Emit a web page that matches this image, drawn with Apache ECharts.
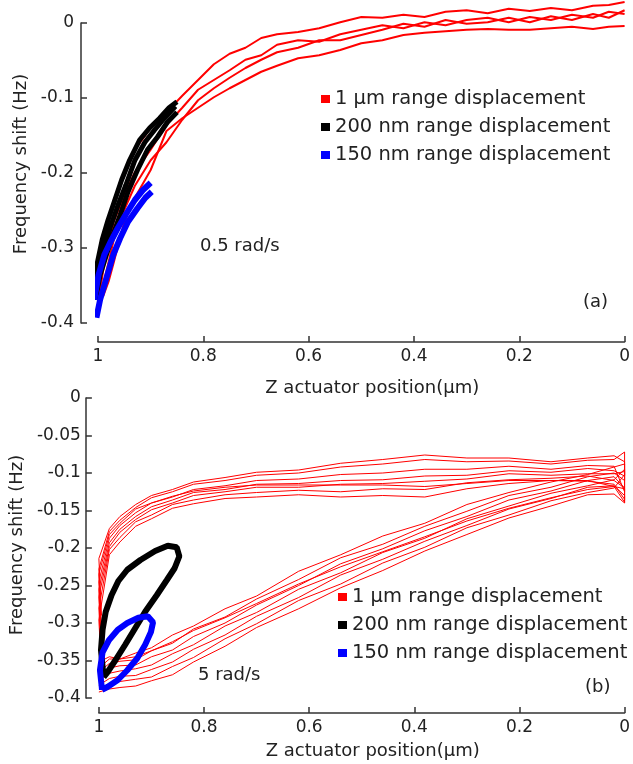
<!DOCTYPE html>
<html>
<head>
<meta charset="utf-8">
<script src="https://cdn.jsdelivr.net/npm/echarts@6/dist/echarts.min.js"></script>
<style>
  html, body { margin: 0; padding: 0; background: #fff; }
  #chart { width: 633px; height: 764px; }
</style>
</head>
<body>
<div id="chart"></div>
<script>
// legend names
const NAMES = ["1 μm range displacement", "200 nm range displacement", "150 nm range displacement"];
const X_TICKS = [1, 0.8, 0.6, 0.4, 0.2, 0];

// ---- panel (a), 0.5 rad/s ----
const X_TOP = [1.0, 0.99, 0.98, 0.97, 0.95, 0.93, 0.90, 0.87, 0.84, 0.81, 0.78, 0.75, 0.72, 0.69, 0.66, 0.62,
  0.58, 0.54, 0.50, 0.46, 0.42, 0.38, 0.34, 0.30, 0.26, 0.22, 0.18, 0.14, 0.10, 0.06, 0.03, 0.0];
const RED_A_TOP = [-0.363, -0.296, -0.265, -0.236, -0.203, -0.169, -0.140, -0.119, -0.097, -0.076, -0.055, -0.041,
  -0.033, -0.020, -0.015, -0.012, -0.007, 0.001, 0.008, 0.007, 0.011, 0.008, 0.015, 0.017, 0.013, 0.019, 0.016,
  0.020, 0.017, 0.023, 0.024, 0.028];
const RED_B_TOP = [-0.376, -0.329, -0.296, -0.265, -0.229, -0.199, -0.169, -0.136, -0.113, -0.089, -0.076, -0.063,
  -0.049, -0.043, -0.029, -0.023, -0.025, -0.015, -0.009, -0.003, -0.007, 0.001, -0.003, 0.004, 0.007, 0.001, 0.008,
  0.004, 0.011, 0.007, 0.015, 0.012];
const RED_C_TOP = [-0.356, -0.349, -0.319, -0.289, -0.249, -0.217, -0.183, -0.159, -0.129, -0.103, -0.087, -0.073,
  -0.060, -0.049, -0.039, -0.033, -0.023, -0.023, -0.016, -0.009, -0.001, -0.005, 0.004, -0.001, 0.001, 0.007, 0.001,
  0.009, 0.004, 0.012, 0.007, 0.017];
const RED_D_TOP = [-0.369, -0.364, -0.345, -0.319, -0.265, -0.233, -0.196, -0.144, -0.127, -0.113, -0.099, -0.087,
  -0.076, -0.065, -0.057, -0.047, -0.043, -0.036, -0.027, -0.023, -0.016, -0.013, -0.011, -0.009, -0.008, -0.009,
  -0.009, -0.007, -0.005, -0.008, -0.005, -0.004];

const BLACK_TOP_1 = [[1.009, -0.356], [1.001, -0.319], [0.992, -0.289], [0.981, -0.263], [0.968, -0.236], [0.955, -0.209],
  [0.940, -0.183], [0.921, -0.156], [0.902, -0.140], [0.883, -0.127], [0.865, -0.113], [0.850, -0.105]];
const BLACK_TOP_2 = [[1.005, -0.369], [0.996, -0.336], [0.984, -0.309], [0.973, -0.285], [0.958, -0.256], [0.943, -0.225],
  [0.925, -0.196], [0.906, -0.169], [0.887, -0.152], [0.868, -0.132], [0.850, -0.119]];
const BLACK_TOP_3 = [[1.007, -0.363], [0.998, -0.327], [0.988, -0.300], [0.977, -0.273], [0.962, -0.243], [0.947, -0.216],
  [0.930, -0.183], [0.911, -0.159], [0.893, -0.143], [0.874, -0.127], [0.853, -0.111]];

const BLUE_TOP_1 = [[1.007, -0.369], [0.999, -0.336], [0.988, -0.309], [0.977, -0.293], [0.962, -0.273], [0.947, -0.255],
  [0.930, -0.236], [0.915, -0.223], [0.900, -0.213]];
const BLUE_TOP_2 = [[1.003, -0.393], [0.996, -0.369], [0.984, -0.340], [0.971, -0.309], [0.958, -0.287], [0.943, -0.265],
  [0.925, -0.247], [0.910, -0.233], [0.898, -0.225]];

// ---- panel (b), 5 rad/s ----
const X_LO = [1.0, 0.98, 0.96, 0.93, 0.90, 0.86, 0.82, 0.76, 0.70, 0.62, 0.54, 0.46, 0.38, 0.30, 0.22, 0.14, 0.07, 0.02, 0.0];
const X_UP = [0.0, 0.02, 0.07, 0.14, 0.22, 0.30, 0.38, 0.46, 0.54, 0.62, 0.70, 0.76, 0.82, 0.86, 0.90, 0.93, 0.96, 0.98, 1.0, 0.995];

const LOOP1_LO = [-0.352, -0.345, -0.348, -0.340, -0.333, -0.316, -0.304, -0.281, -0.264, -0.231, -0.209, -0.184, -0.167, -0.142, -0.126, -0.112, -0.102, -0.092, -0.088];
const LOOP1_UP = [-0.104, -0.097, -0.094, -0.099, -0.097, -0.103, -0.104, -0.109, -0.110, -0.114, -0.115, -0.122, -0.126, -0.136, -0.145, -0.158, -0.175, -0.193, -0.255, -0.340];
const LOOP2_LO = [-0.365, -0.354, -0.351, -0.349, -0.337, -0.327, -0.308, -0.292, -0.268, -0.242, -0.213, -0.195, -0.171, -0.151, -0.130, -0.119, -0.105, -0.100, -0.110];
const LOOP2_UP = [-0.072, -0.082, -0.083, -0.088, -0.084, -0.085, -0.082, -0.088, -0.092, -0.100, -0.103, -0.110, -0.115, -0.125, -0.133, -0.146, -0.163, -0.178, -0.228, -0.320];
const LOOP3_LO = [-0.372, -0.360, -0.357, -0.356, -0.345, -0.336, -0.318, -0.300, -0.276, -0.250, -0.221, -0.201, -0.177, -0.158, -0.136, -0.124, -0.110, -0.105, -0.120];
const LOOP3_UP = [-0.118, -0.110, -0.104, -0.107, -0.109, -0.113, -0.122, -0.121, -0.125, -0.123, -0.126, -0.129, -0.136, -0.142, -0.156, -0.165, -0.186, -0.202, -0.280, -0.355];
const LOOP4_LO = [-0.378, -0.367, -0.364, -0.361, -0.356, -0.341, -0.329, -0.304, -0.286, -0.255, -0.233, -0.206, -0.187, -0.161, -0.144, -0.127, -0.117, -0.109, -0.095];
const LOOP4_UP = [-0.125, -0.091, -0.090, -0.095, -0.091, -0.095, -0.095, -0.100, -0.102, -0.108, -0.110, -0.117, -0.122, -0.132, -0.140, -0.153, -0.170, -0.187, -0.245, -0.330];
const LOOP5_LO = [-0.383, -0.374, -0.371, -0.370, -0.362, -0.352, -0.335, -0.316, -0.291, -0.266, -0.236, -0.215, -0.191, -0.170, -0.148, -0.134, -0.119, -0.117, -0.130];
const LOOP5_UP = [-0.135, -0.115, -0.111, -0.110, -0.114, -0.121, -0.132, -0.130, -0.132, -0.129, -0.132, -0.134, -0.141, -0.147, -0.161, -0.171, -0.192, -0.209, -0.296, -0.365];
const LOOP6_LO = [-0.388, -0.381, -0.378, -0.375, -0.372, -0.358, -0.346, -0.321, -0.301, -0.270, -0.248, -0.220, -0.199, -0.173, -0.156, -0.137, -0.126, -0.120, -0.102];
const LOOP6_UP = [-0.098, -0.101, -0.101, -0.103, -0.101, -0.108, -0.111, -0.114, -0.115, -0.119, -0.119, -0.125, -0.130, -0.140, -0.149, -0.162, -0.179, -0.198, -0.265, -0.345];
const LOOP7_LO = [-0.392, -0.388, -0.386, -0.384, -0.377, -0.369, -0.352, -0.331, -0.306, -0.281, -0.253, -0.230, -0.204, -0.182, -0.160, -0.144, -0.129, -0.128, -0.140];
const LOOP7_UP = [-0.085, -0.077, -0.080, -0.085, -0.080, -0.080, -0.076, -0.082, -0.087, -0.096, -0.099, -0.106, -0.112, -0.122, -0.130, -0.142, -0.158, -0.174, -0.214, -0.290];
const LOOP8_LO = [-0.360, -0.348, -0.348, -0.345, -0.337, -0.325, -0.310, -0.293, -0.274, -0.248, -0.225, -0.205, -0.185, -0.164, -0.147, -0.133, -0.122, -0.118, -0.121];
const LOOP8_UP = [-0.139, -0.118, -0.110, -0.110, -0.110, -0.114, -0.118, -0.116, -0.116, -0.116, -0.116, -0.119, -0.124, -0.131, -0.140, -0.148, -0.167, -0.182, -0.235, -0.310];

const BLACK_LOOP = [[0.991, -0.372], [0.996, -0.336], [0.993, -0.309], [0.987, -0.285], [0.976, -0.263], [0.963, -0.244],
  [0.946, -0.229], [0.921, -0.216], [0.893, -0.204], [0.869, -0.197], [0.852, -0.199], [0.847, -0.211], [0.856, -0.227],
  [0.871, -0.243], [0.890, -0.263], [0.912, -0.285], [0.931, -0.307], [0.950, -0.329], [0.968, -0.349], [0.983, -0.365],
  [0.991, -0.372]];
const BLUE_LOOP = [[0.994, -0.389], [0.998, -0.363], [0.993, -0.339], [0.981, -0.323], [0.964, -0.309], [0.946, -0.300],
  [0.925, -0.293], [0.907, -0.291], [0.897, -0.299], [0.901, -0.312], [0.912, -0.329], [0.927, -0.347], [0.946, -0.363],
  [0.964, -0.376], [0.983, -0.385], [0.994, -0.389]];

const FONT = "DejaVu Sans";
const TXT = "#222";
const AXIS = "#333";
const RED = "#ff0000", BLACK = "#000000", BLUE = "#0000ff";

function pairs(xs, ys) {
  return xs.map((x, i) => [x, ys[i]]);
}

function line(name, color, width, data, panel) {
  return {
    name: name,
    type: "line",
    xAxisIndex: panel,
    yAxisIndex: panel,
    data: data,
    showSymbol: false,
    clip: false,
    silent: true,
    lineStyle: { color: color, width: width },
    itemStyle: { color: color },
  };
}

let series = [];
// panel a
[RED_A_TOP, RED_B_TOP, RED_C_TOP, RED_D_TOP].forEach((ys) => {
  series.push(line(NAMES[0], RED, 2, pairs(X_TOP, ys), 0));
});
[BLACK_TOP_1, BLACK_TOP_2, BLACK_TOP_3].forEach((d) => {
  series.push(line(NAMES[1], BLACK, 5, d, 0));
});
[BLUE_TOP_1, BLUE_TOP_2].forEach((d) => {
  series.push(line(NAMES[2], BLUE, 6, d, 0));
});
// panel b
[
  [LOOP1_LO, LOOP1_UP], [LOOP2_LO, LOOP2_UP], [LOOP3_LO, LOOP3_UP], [LOOP4_LO, LOOP4_UP],
  [LOOP5_LO, LOOP5_UP], [LOOP6_LO, LOOP6_UP], [LOOP7_LO, LOOP7_UP], [LOOP8_LO, LOOP8_UP],
].forEach((lp) => {
  series.push(line(NAMES[0], RED, 1, pairs(X_LO, lp[0]).concat(pairs(X_UP, lp[1])), 1));
});
series.push(line(NAMES[1], BLACK, 6, BLACK_LOOP, 1));
series.push(line(NAMES[2], BLUE, 6, BLUE_LOOP, 1));

function xAxis(grid, offset, nameGap) {
  return {
    type: "value",
    gridIndex: grid,
    position: "bottom",
    min: 0,
    max: 1,
    interval: 0.2,
    inverse: true,
    offset: offset,
    name: "Z actuator position(μm)",
    nameLocation: "middle",
    nameGap: nameGap,
    nameTextStyle: { fontFamily: FONT, fontSize: 18, color: TXT, padding: [0, 0, 0, 22] },
    axisLine: { onZero: false, lineStyle: { color: AXIS, width: 1.5 } },
    axisTick: { inside: true, length: 6, lineStyle: { color: AXIS, width: 1.5 } },
    axisLabel: {
      margin: 6, fontFamily: FONT, fontSize: 17, color: TXT,
      formatter: (v) => (X_TICKS.indexOf(v) >= 0 ? String(v) : ""),
    },
    splitLine: { show: false },
  };
}

function yAxis(grid, offset, interval, margin, namePad) {
  return {
    type: "value",
    gridIndex: grid,
    position: "left",
    min: -0.4,
    max: 0,
    interval: interval,
    offset: offset,
    name: "Frequency shift (Hz)",
    nameLocation: "middle",
    nameGap: 50,
    nameTextStyle: { fontFamily: FONT, fontSize: 18, color: TXT, padding: namePad },
    axisLine: { show: true, onZero: false, lineStyle: { color: AXIS, width: 1.5 } },
    axisTick: { show: true, inside: true, length: 6, lineStyle: { color: AXIS, width: 1.5 } },
    axisLabel: { margin: margin, fontFamily: FONT, fontSize: 17, color: TXT },
    splitLine: { show: false },
  };
}

function legend(left, top) {
  return {
    data: NAMES,
    left: left,
    top: top,
    orient: "vertical",
    icon: "rect",
    itemWidth: 9,
    itemHeight: 8,
    itemGap: 8,
    selectedMode: false,
    textStyle: { fontFamily: FONT, fontSize: 19.5, color: TXT, lineHeight: 20 },
  };
}

function label(text, left, top) {
  return {
    type: "text",
    left: left,
    top: top,
    style: { text: text, font: "18px " + FONT, fill: TXT },
  };
}

let chart = echarts.init(document.getElementById("chart"));
chart.setOption({
  animation: false,
  backgroundColor: "#fff",
  grid: [
    { left: 98, right: 1, top: 23, height: 300 },
    { left: 93, right: 5, top: 398, height: 300 },
  ],
  xAxis: [xAxis(0, 19, 37), xAxis(1, 15, 29)],
  yAxis: [yAxis(0, 17, 0.1, 7, [0, 0, 0, 18]), yAxis(1, 13, 0.05, 5, [0, 0, 0, 6])],
  legend: [legend(316, 84), legend(333, 582)],
  graphic: [
    label("0.5 rad/s", 200, 237),
    label("(a)", 583, 293),
    label("5 rad/s", 198, 666),
    label("(b)", 585, 678),
  ],
  series: series,
});
</script>
</body>
</html>
